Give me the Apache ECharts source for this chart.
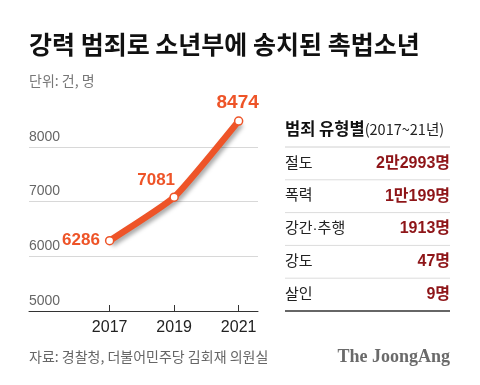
<!DOCTYPE html>
<html><head><meta charset="utf-8">
<script src="https://cdn.jsdelivr.net/npm/echarts@6/dist/echarts.min.js"></script>
<style>html,body{margin:0;padding:0;background:#fff}#c{width:480px;height:385px}</style>
</head><body><div id="c"></div>
<script>
const years = [2017, 2019, 2021];
const cases = [6286, 7081, 8474];
const yTicks = [5000, 6000, 7000, 8000];
const crimeTypes = ['절도', '폭력', '강간·추행', '강도', '살인'];
const crimeCounts = ['2만2993명', '1만199명', '1913명', '47명', '9명'];
const titleText = '강력 범죄로 소년부에 송치된 촉법소년';
const unitText = '단위: 건, 명';
const tableHeader = '범죄 유형별';
const tableHeaderSub = '(2017~21년)';
const sourceText = '자료: 경찰청, 더불어민주당 김회재 의원실';
const brandText = 'The JoongAng';

const KR = "'Noto Sans CJK KR', sans-serif";
const NUM = "'Liberation Sans', 'Noto Sans CJK KR', sans-serif";
const orange = '#ee5428';

const chart = echarts.init(document.getElementById('c'), null, {renderer: 'canvas'});

const labelCfg = [
  {position: 'left', distance: 5, fontSize: 17, offset: [0, 0]},
  {position: 'top', distance: 4, fontSize: 17, offset: [-18, 0]},
  {position: 'top', distance: 4, fontSize: 19, offset: [-1, 0]}
];

const seriesData = years.map((y, i) => ({
  value: [y, cases[i]],
  label: {
    show: true,
    position: labelCfg[i].position,
    distance: labelCfg[i].distance,
    offset: labelCfg[i].offset,
    fontSize: labelCfg[i].fontSize,
    fontWeight: 'bold',
    fontFamily: NUM,
    color: orange,
    formatter: String(cases[i])
  }
}));

const tx0 = 285, tx1 = 450, tHeadY = 129, tLine0 = 147, rowH = 32.8;
const graphics = [];
graphics.push({type: 'text', x: 29, y: 44, style: {text: titleText, font: "bold 25px " + KR, fill: '#111', verticalAlign: 'middle'}});
graphics.push({type: 'text', x: 29, y: 81, style: {text: unitText, font: "14px " + KR, fill: '#777', verticalAlign: 'middle'}});
graphics.push({type: 'text', x: tx0, y: tHeadY, style: {
  text: '{a|' + tableHeader + '}{b|' + tableHeaderSub + '}',
  verticalAlign: 'middle',
  rich: {
    a: {fontFamily: KR, fontWeight: 'bold', fontSize: 16.5, fill: '#111', color: '#111'},
    b: {fontFamily: KR, fontSize: 14.5, fill: '#222', color: '#222'}
  }
}});
graphics.push({type: 'line', shape: {x1: tx0, y1: tLine0, x2: tx1, y2: tLine0}, style: {stroke: '#d0d0d0', lineWidth: 1}});
crimeTypes.forEach((t, i) => {
  const cy = tLine0 + rowH * i + rowH / 2;
  graphics.push({type: 'text', x: tx0, y: cy, style: {text: t, font: "15px " + NUM, fill: '#222', verticalAlign: 'middle'}});
  graphics.push({type: 'text', x: tx1, y: cy, style: {text: crimeCounts[i], font: "bold 16px " + NUM, fill: '#8e1518', align: 'right', verticalAlign: 'middle'}});
  const ly = tLine0 + rowH * (i + 1);
  const last = i === crimeTypes.length - 1;
  graphics.push({type: 'line', shape: {x1: tx0, y1: ly, x2: tx1, y2: ly}, style: {stroke: last ? '#333' : '#dcdcdc', lineWidth: last ? 1.5 : 1}});
});
graphics.push({type: 'text', x: 29, y: 357, style: {text: sourceText, font: "14px " + KR, fill: '#666', verticalAlign: 'middle'}});
graphics.push({type: 'text', x: 450, y: 357, style: {text: brandText, font: "bold 18px 'Liberation Serif', serif", fill: '#6a6a6a', align: 'right', verticalAlign: 'middle'}});

chart.setOption({
  animation: false,
  backgroundColor: '#fff',
  grid: {left: 29, right: 222, top: 119.6, bottom: 74, containLabel: false},
  xAxis: {
    type: 'value', min: 2014.5, max: 2021.6,
    axisLine: {show: true, lineStyle: {color: '#333', width: 1}},
    axisTick: {show: true, inside: true, length: 6, customValues: years, lineStyle: {color: '#333'}},
    axisLabel: {customValues: years, margin: 9, fontSize: 16, color: '#222', fontFamily: NUM, formatter: v => String(v)},
    splitLine: {show: false}
  },
  yAxis: {
    type: 'value', min: 5000, max: 8500, interval: 1000,
    axisLine: {show: false}, axisTick: {show: false},
    axisLabel: {
      inside: true, margin: 0, align: 'left', verticalAlign: 'bottom', padding: [0, 0, 3, 0],
      fontSize: 14, color: '#666', fontFamily: NUM,
      formatter: v => (yTicks.includes(v) ? String(v) : ''),
      showMaxLabel: false
    },
    splitLine: {show: true, showMaxLine: false, lineStyle: {color: '#d8d8d8', width: 1}}
  },
  series: [{
    type: 'line',
    data: seriesData,
    smooth: 0.15,
    symbol: 'circle', symbolSize: 8,
    itemStyle: {color: '#fff', borderColor: orange, borderWidth: 1.5},
    lineStyle: {color: orange, width: 6.5, shadowColor: 'rgba(0,0,0,0.35)', shadowBlur: 4, shadowOffsetX: 2, shadowOffsetY: 3},
    z: 3
  }],
  graphic: graphics
});
</script></body></html>
